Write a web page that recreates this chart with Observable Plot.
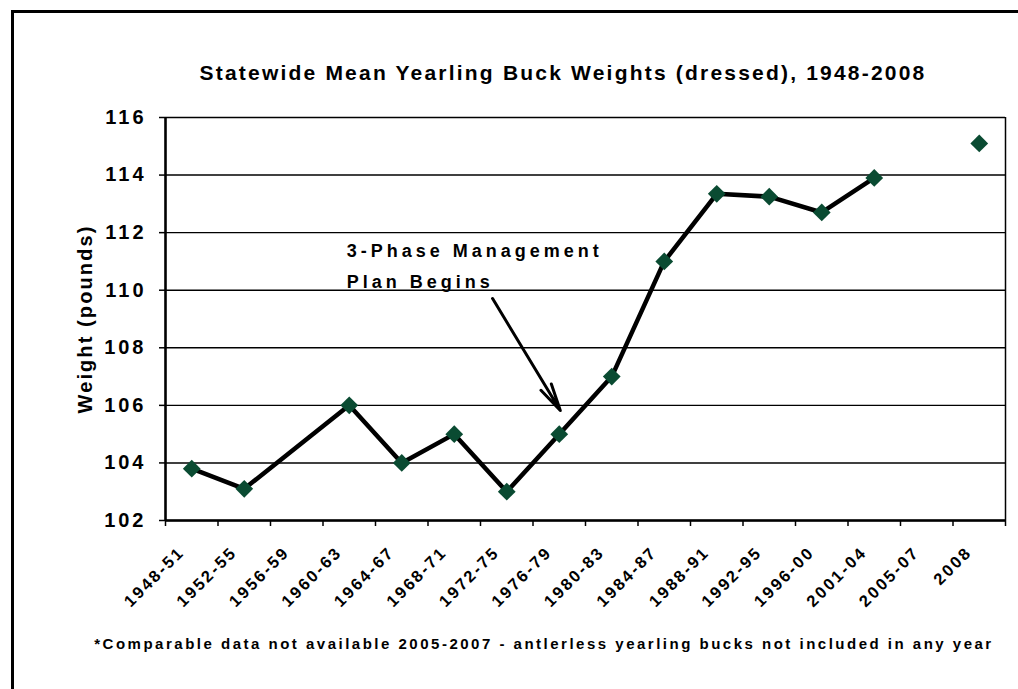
<!DOCTYPE html>
<html>
<head>
<meta charset="utf-8">
<script src="https://cdn.jsdelivr.net/npm/d3@7"></script>
<script src="https://cdn.jsdelivr.net/npm/@observablehq/plot@0.6"></script>
<style>
  html, body { margin: 0; padding: 0; background: #fff; }
  #wrap { position: relative; width: 1018px; height: 689px; overflow: hidden; background: #fff;
          font-family: "Liberation Sans", Arial, sans-serif; font-weight: bold; color: #000; }
  #frame { position: absolute; left: 11px; top: 10px; width: 1100px; height: 800px;
           border-left: 3px solid #000; border-top: 3px solid #000; box-sizing: border-box; }
  #title { position: absolute; left: 0; width: 1126px; top: 61px; text-align: center;
           font-size: 21px; line-height: 24px; letter-spacing: 2.2px; white-space: nowrap; }
  #note { position: absolute; left: 0; width: 1088px; top: 635px; text-align: center;
          font-size: 15px; line-height: 18px; letter-spacing: 2.5px; white-space: nowrap; }
  #chart { position: absolute; left: 0; top: 90px; }
  g[aria-label="y-axis tick label"] text { letter-spacing: 3px; }
  g[aria-label="x-axis tick label"] text { letter-spacing: 2.4px; }
  g[aria-label="text"] text { letter-spacing: 4px; }
  g[aria-label="text"] text[transform*="rotate(-90)"] { letter-spacing: 2.1px; }
</style>
</head>
<body>
<div id="wrap">
  <div id="frame"></div>
  <div id="title"></div>
  <div id="chart"></div>
  <div id="note"></div>
</div>
<script>
const titleText = "Statewide Mean Yearling Buck Weights (dressed), 1948-2008";
const noteText = "*Comparable data not available 2005-2007 - antlerless yearling bucks not included in any year";
const yLabel = "Weight (pounds)";
const annotation = "3-Phase Management\nPlan Begins";

const categories = ["1948-51","1952-55","1956-59","1960-63","1964-67","1968-71","1972-75","1976-79",
                    "1980-83","1984-87","1988-91","1992-95","1996-00","2001-04","2005-07","2008"];
const weights = [103.8, 103.1, null, 106.0, 104.0, 105.0, 103.0, 105.0,
                 107.0, 111.0, 113.35, 113.25, 112.7, 113.9, null, 115.1];
const yTicks = [102, 104, 106, 108, 110, 112, 114, 116];
const lastConnected = "2001-04"; // line stops here; 2008 is not comparable

document.getElementById("title").textContent = titleText;
document.getElementById("note").textContent = noteText;

const data = categories.map((c, i) => ({i, category: c, x: i + 0.5, weight: weights[i]}));
const points = data.filter(d => d.weight != null);
const stopIndex = categories.indexOf(lastConnected);
const lineData = points.filter(d => d.i <= stopIndex);

const chart = Plot.plot({
  width: 1018,
  height: 540,
  marginTop: 27,
  marginBottom: 110,
  marginLeft: 165,
  marginRight: 13,
  x: {domain: [0, categories.length]},
  y: {domain: [yTicks[0], yTicks[yTicks.length - 1]]},
  style: {fontFamily: "'Liberation Sans', Arial, sans-serif", fontWeight: "bold", color: "#000", background: "transparent", overflow: "visible"},
  marks: [
    Plot.gridY(yTicks, {stroke: "#000", strokeOpacity: 1, strokeWidth: 1.4}),
    Plot.ruleX([categories.length], {stroke: "#000", strokeWidth: 1.5}),
    Plot.axisY(yTicks, {tickSize: 6, tickPadding: 13, fontSize: 20, tickFormat: d => String(d), label: null, strokeWidth: 1.5}),
    Plot.text([yLabel], {frameAnchor: "left", textAnchor: "middle", rotate: -90, dx: -80, fontSize: 20, text: d => d}),
    Plot.axisX(d3.range(categories.length + 1), {tickSize: 6, tickFormat: () => "", label: null, strokeWidth: 1.5}),
    Plot.axisX(data.map(d => d.x), {tickSize: 0, tickPadding: 29, tickRotate: -45, fontSize: 16.5, dx: -10,
      tickFormat: d => categories[Math.floor(d)], label: null}),
    Plot.ruleX([0], {stroke: "#000", strokeWidth: 2.6}),
    Plot.ruleY([yTicks[0]], {stroke: "#000", strokeWidth: 2.6}),
    Plot.line(lineData, {x: "x", y: "weight", stroke: "#000", strokeWidth: 4.5}),
    Plot.dot(points, {x: "x", y: "weight", symbol: "diamond2", r: 8, fill: "#0a4b32", stroke: "none"}),
    Plot.text([annotation], {x: 3.45, y: 111.93, text: d => d, textAnchor: "start", lineAnchor: "top", fontSize: 18, lineHeight: 1.72}),
    Plot.arrow([0], {x1: 6.23, y1: 109.71, x2: 7.52, y2: 105.82, stroke: "#000", strokeWidth: 3, headLength: 14, headAngle: 25})
  ]
});
document.getElementById("chart").appendChild(chart);
</script>
</body>
</html>
